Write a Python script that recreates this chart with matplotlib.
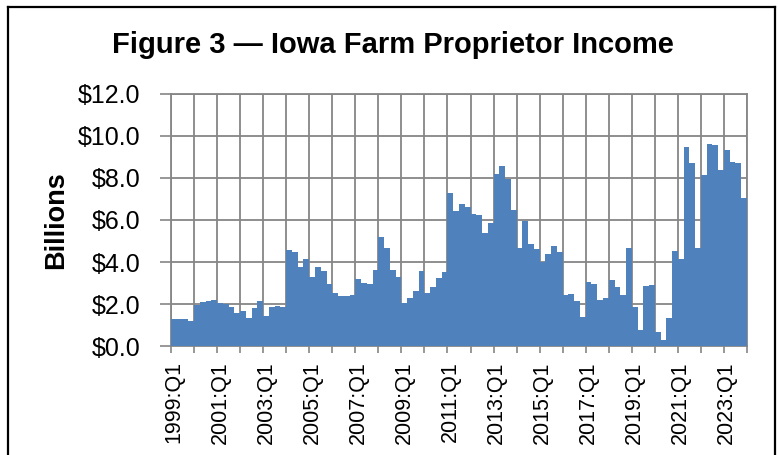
import matplotlib
matplotlib.use("Agg")
import matplotlib.pyplot as plt
from matplotlib.lines import Line2D
import numpy as np

years = list(range(1999, 2024))
quarters = [f"{y}:Q{q}" for y in years for q in range(1, 5)]

income = [
    1.29, 1.28, 1.27, 1.18,   # 1999
    1.94, 2.11, 2.14, 2.21,   # 2000
    2.05, 2.00, 1.84, 1.56,   # 2001
    1.68, 1.35, 1.79, 2.14,   # 2002
    1.41, 1.84, 1.89, 1.84,   # 2003
    4.57, 4.46, 3.75, 4.13,   # 2004
    3.30, 3.76, 3.59, 2.95,   # 2005
    2.54, 2.38, 2.37, 2.43,   # 2006
    3.21, 3.02, 2.95, 3.63,   # 2007
    5.17, 4.68, 3.60, 3.29,   # 2008
    2.05, 2.27, 2.62, 3.57,   # 2009
    2.52, 2.83, 3.24, 3.51,   # 2010
    7.29, 6.43, 6.75, 6.63,   # 2011
    6.27, 6.24, 5.40, 5.84,   # 2012
    8.19, 8.56, 7.94, 6.48,   # 2013
    4.65, 5.94, 4.86, 4.62,   # 2014
    4.02, 4.40, 4.75, 4.46,   # 2015
    2.41, 2.49, 2.16, 1.40,   # 2016
    3.05, 2.94, 2.21, 2.27,   # 2017
    3.13, 2.79, 2.43, 4.68,   # 2018
    1.84, 0.76, 2.84, 2.89,   # 2019
    0.68, 0.27, 1.32, 4.52,   # 2020
    4.14, 9.49, 8.70, 4.68,   # 2021
    8.16, 9.60, 9.59, 8.37,   # 2022
    9.35, 8.75, 8.73, 7.05,   # 2023
]

y_ticks = [0, 2, 4, 6, 8, 10, 12]
y_labels = [f"${v:.1f}" for v in y_ticks]
title = "Figure 3 \u2014 Iowa Farm Proprietor Income"
ylabel = "Billions"

plt.rcParams['font.family'] = ['Liberation Sans', 'DejaVu Sans']

fig = plt.figure(figsize=(7.78, 4.55), dpi=100)
ax = fig.add_axes([171/778, 1 - 346/455, (747 - 171)/778, (346 - 94)/455])

x = np.arange(len(income))
ax.bar(x, income, width=1.0, color="#4F81BD", edgecolor="none", zorder=3)

ax.set_xlim(-0.5, len(income) - 0.5)
ax.set_ylim(0, 12)

grid_c = "#868686"
# vertical year gridlines
boundaries = np.arange(-0.5, len(income), 4)
ax.set_xticks(boundaries, minor=True)
ax.set_xticks(x[::8])
ax.set_xticklabels([quarters[i] for i in x[::8]], rotation=90, fontsize=15.5)
ax.tick_params(axis='x', which='major', length=0, pad=11)
ax.tick_params(axis='x', which='minor', length=5, width=1.2, color=grid_c)
ax.grid(axis='x', which='minor', color=grid_c, linewidth=1.3, zorder=1)

ax.set_yticks(y_ticks)
ax.set_yticklabels(y_labels, fontsize=18)
ax.tick_params(axis='y', length=8, width=1.2, color=grid_c, pad=14)
ax.grid(axis='y', which='major', color=grid_c, linewidth=1.3, zorder=1)
ax.set_axisbelow(True)

for s in ax.spines.values():
    s.set_color(grid_c)
    s.set_linewidth(1.3)

fig.text(56/778, 1 - 220/455, ylabel, rotation=90, fontsize=19.5, fontweight='bold',
         ha='center', va='center')
fig.text(393/778, 1 - 45/455, title, fontsize=21, fontweight='bold',
         ha='center', va='center')

# outer border (open at the bottom, as in the reference crop)
bx0, bx1, by = 8/778, 775/778, 1 - 7/455
fig.add_artist(Line2D([bx0, bx0], [0, by], color='black', linewidth=1.6, transform=fig.transFigure))
fig.add_artist(Line2D([bx1, bx1], [0, by], color='black', linewidth=1.6, transform=fig.transFigure))
fig.add_artist(Line2D([bx0, bx1], [by, by], color='black', linewidth=1.6, transform=fig.transFigure))

fig.savefig("out.png", dpi=100)
